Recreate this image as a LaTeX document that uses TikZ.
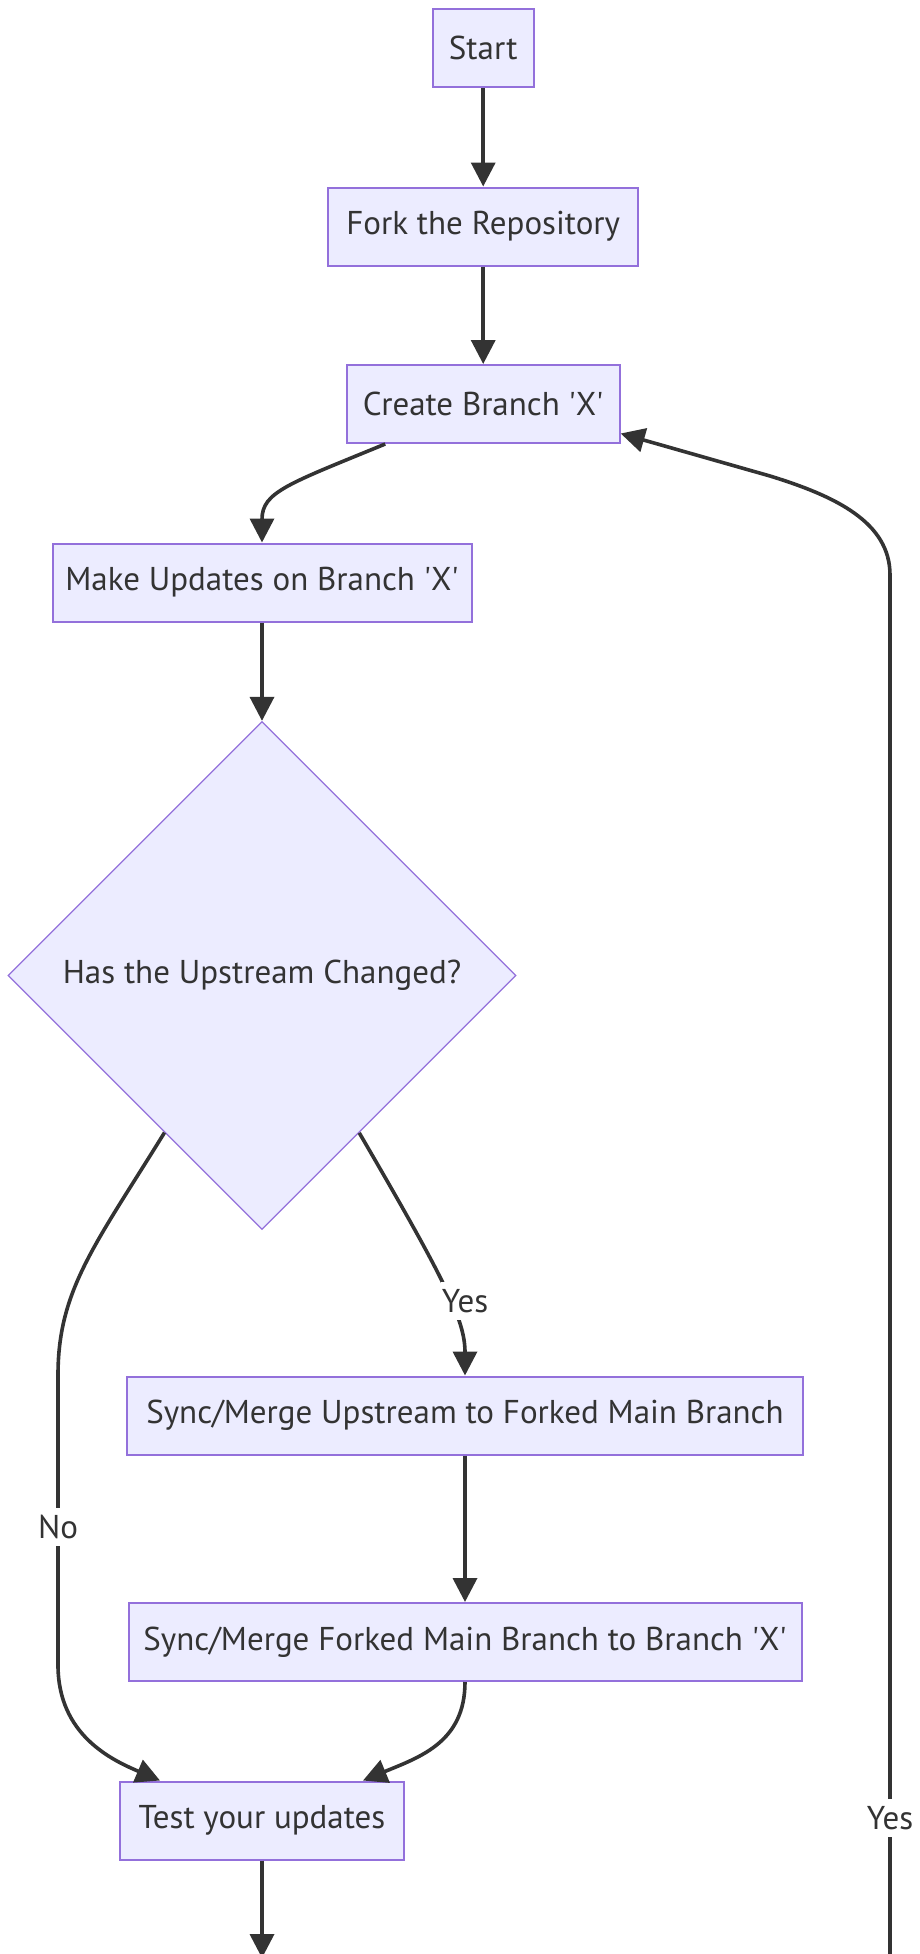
\documentclass[tikz,border=0pt]{standalone}
\usepackage{fontspec}
\setmainfont{PT Sans}
\usetikzlibrary{arrows.meta,shapes.geometric,calc}
\definecolor{boxfill}{HTML}{ECECFF}
\definecolor{boxline}{HTML}{9370DB}
\definecolor{ink}{HTML}{333333}
\newcommand{\nodefont}{\fontsize{33}{39}\selectfont}
\newcommand{\sq}{\textquotesingle}
\begin{document}
\begin{tikzpicture}[x=1pt,y=-1pt,
  proc/.style={draw=boxline, fill=boxfill, line width=2pt, text=ink, font=\nodefont,
    inner sep=0pt, minimum height=78pt},
  decide/.style={diamond, draw=boxline, fill=boxfill, line width=1.3pt, text=ink,
    font=\nodefont, inner sep=0pt, minimum width=508pt, minimum height=508pt},
  flow/.style={draw=ink, line width=3.6pt, -{Triangle[length=24pt,width=24pt]}},
  lbl/.style={fill=white, text=ink, font=\nodefont, inner xsep=1pt, inner ysep=0pt,
    minimum height=38pt}
]
\useasboundingbox (0,0) rectangle (919,1954);
\clip (0,0) rectangle (919,1954);

\node[proc, minimum width=101pt] (start) at (483.2,48) {Start};
\node[proc, minimum width=310pt] (fork) at (483.2,226.5) {Fork the Repository};
\node[proc, minimum width=273pt] (create) at (483.2,404) {Create Branch \sq X\sq};
\node[proc, minimum width=419pt] (make) at (262,582.5) {Make Updates on Branch \sq X\sq};
\node[decide] (dec) at (262,975.5) {Has the Upstream Changed?};
\node[proc, minimum width=676pt] (syncup) at (465,1415.5) {Sync/Merge Upstream to Forked Main Branch};
\node[proc, minimum width=673pt] (syncfork) at (465,1642) {Sync/Merge Forked Main Branch to Branch \sq X\sq};
\node[proc, minimum width=284pt] (test) at (262,1820.5) {Test your updates};

\coordinate (below) at (262,1958);
\coordinate (loopstart) at (890,1970);

\draw[flow] (start) -- (fork);
\draw[flow] (fork) -- (create);
\draw[flow] ([xshift=-98pt]create.south) .. controls (288,484) and (262,492) .. (make.north);
\draw[flow] (make.south) -- (dec.north);
\draw[flow] ($(dec.east)!0.618!(dec.south)$) .. controls (445,1280) and (465,1320) .. (syncup.north);
\draw[flow] ($(dec.west)!0.617!(dec.south)$) .. controls (95,1245) and (58,1290) .. (58,1375)
  -- (58,1665) .. controls (58,1735) and (112,1760) .. ([xshift=-102pt]test.north);
\draw[flow] (syncup) -- (syncfork);
\draw[flow] (syncfork.south) .. controls (465,1742) and (420,1757) .. ([xshift=101pt]test.north);
\draw[flow] (test.south) -- (below);
\draw[flow] (loopstart) -- (890,575) .. controls (890,522) and (835,496) .. (770,476)
  -- ([yshift=-29.5pt]create.east);

\node[lbl] (yesA) at (465,1301) {Yes};
\node[lbl] (noA) at (58,1527) {No};
\node[lbl] (yesB) at (890,1818) {Yes};
\end{tikzpicture}
\end{document}
